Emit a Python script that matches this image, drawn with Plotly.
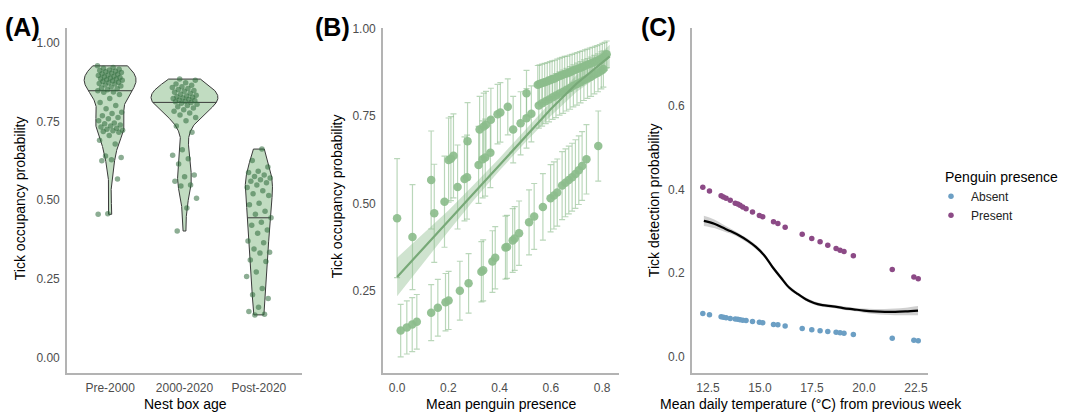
import numpy as np
import plotly.graph_objects as go

# ---------------- Panel A data: tick occupancy probability by nest box age ----------------
age_labels = ["Pre-2000", "2000-2020", "Post-2020"]
pre2000 = [0.926, 0.921, 0.918, 0.915, 0.913, 0.911, 0.909, 0.907, 0.905, 0.903, 0.901, 0.899,
           0.897, 0.895, 0.893, 0.891, 0.889, 0.887, 0.885, 0.884, 0.882, 0.880, 0.878, 0.876,
           0.874, 0.872, 0.870, 0.868, 0.865, 0.862, 0.859, 0.856, 0.853, 0.850, 0.847, 0.843,
           0.842, 0.835, 0.822, 0.810, 0.800, 0.790, 0.779, 0.775, 0.768, 0.762, 0.758, 0.752,
           0.745, 0.742, 0.738, 0.735, 0.732, 0.728, 0.725, 0.722, 0.720, 0.718, 0.715, 0.705,
           0.690, 0.678, 0.640, 0.635, 0.628, 0.625, 0.567, 0.457, 0.455]
y2000_2020 = [0.884, 0.880, 0.872, 0.868, 0.864, 0.860, 0.857, 0.854, 0.851, 0.848, 0.845, 0.842,
              0.839, 0.836, 0.833, 0.830, 0.828, 0.826, 0.824, 0.822, 0.820, 0.818, 0.816, 0.814,
              0.812, 0.810, 0.807, 0.804, 0.800, 0.796, 0.792, 0.787, 0.782, 0.776, 0.770, 0.762,
              0.752, 0.735, 0.715, 0.660, 0.642, 0.631, 0.615, 0.580, 0.574, 0.560, 0.548, 0.545,
              0.506, 0.475, 0.402]
post2020 = [0.662, 0.626, 0.605, 0.592, 0.588, 0.580, 0.575, 0.570, 0.565, 0.560, 0.555, 0.548,
            0.540, 0.530, 0.520, 0.515, 0.490, 0.485, 0.465, 0.455, 0.444, 0.430, 0.420, 0.405,
            0.395, 0.370, 0.365, 0.345, 0.335, 0.332, 0.310, 0.305, 0.272, 0.258, 0.220, 0.200,
            0.188, 0.160, 0.147, 0.138, 0.136]

# ---------------- Panel B data: occupancy vs mean penguin presence ----------------
b_low_x = [0.014, 0.038, 0.059, 0.077, 0.133, 0.159, 0.189, 0.201, 0.245, 0.279, 0.329, 0.336,
           0.372, 0.383, 0.423, 0.429, 0.451, 0.459, 0.476, 0.515, 0.535, 0.569, 0.599, 0.612,
           0.625, 0.644, 0.657, 0.670, 0.683, 0.696, 0.709, 0.722, 0.739, 0.785]
b_low_y = [0.137, 0.146, 0.154, 0.162, 0.188, 0.202, 0.218, 0.223, 0.251, 0.272, 0.305, 0.309,
           0.334, 0.345, 0.374, 0.376, 0.394, 0.400, 0.415, 0.446, 0.463, 0.490, 0.515, 0.523,
           0.531, 0.551, 0.559, 0.567, 0.575, 0.584, 0.595, 0.607, 0.626, 0.664]
b_low_err = [0.075, 0.076, 0.077, 0.078, 0.080, 0.081, 0.082, 0.083, 0.084, 0.085, 0.086, 0.087,
             0.088, 0.089, 0.090, 0.090, 0.091, 0.091, 0.092, 0.093, 0.094, 0.095, 0.096, 0.096,
             0.096, 0.097, 0.097, 0.097, 0.097, 0.098, 0.098, 0.098, 0.099, 0.100]

b_mid_x = [0.000, 0.060, 0.133, 0.145, 0.185, 0.201, 0.210, 0.220, 0.236, 0.263, 0.273, 0.275,
           0.318, 0.322, 0.334, 0.338, 0.347, 0.344, 0.364, 0.366, 0.392, 0.403, 0.432, 0.453,
           0.482, 0.505, 0.505, 0.524]
b_mid_y = [0.458, 0.404, 0.567, 0.472, 0.505, 0.624, 0.628, 0.636, 0.547, 0.570, 0.575, 0.678,
           0.610, 0.711, 0.626, 0.720, 0.725, 0.631, 0.645, 0.739, 0.755, 0.760, 0.776, 0.711,
           0.729, 0.815, 0.743, 0.756]
b_mid_err = [0.170, 0.150, 0.140, 0.140, 0.130, 0.120, 0.120, 0.120, 0.120, 0.120, 0.120, 0.110,
             0.110, 0.095, 0.110, 0.095, 0.095, 0.110, 0.100, 0.090, 0.085, 0.085, 0.080, 0.095,
             0.090, 0.065, 0.085, 0.080]

b_top_x = [0.549, 0.556, 0.566, 0.576, 0.586, 0.596, 0.605, 0.615, 0.625, 0.635, 0.644, 0.654,
           0.664, 0.674, 0.683, 0.693, 0.703, 0.713, 0.723, 0.733, 0.742, 0.752, 0.762, 0.772,
           0.781, 0.791, 0.801, 0.810, 0.818]
b_top_y = [0.839, 0.841, 0.844, 0.846, 0.849, 0.852, 0.855, 0.857, 0.861, 0.864, 0.867, 0.870,
           0.872, 0.875, 0.878, 0.881, 0.884, 0.887, 0.890, 0.893, 0.896, 0.899, 0.902, 0.905,
           0.908, 0.911, 0.915, 0.920, 0.926]
b_top_err = [0.055, 0.055, 0.054, 0.054, 0.053, 0.053, 0.052, 0.052, 0.051, 0.051, 0.050, 0.050,
             0.049, 0.049, 0.048, 0.048, 0.047, 0.047, 0.046, 0.046, 0.045, 0.045, 0.044, 0.044,
             0.043, 0.043, 0.042, 0.040, 0.038]

b_sub_x = [0.553, 0.566, 0.580, 0.593, 0.607, 0.620, 0.634, 0.648, 0.661, 0.675, 0.688, 0.702,
           0.716, 0.729, 0.743, 0.757, 0.770, 0.784, 0.797, 0.805]
b_sub_y = [0.780, 0.786, 0.792, 0.797, 0.803, 0.808, 0.814, 0.819, 0.825, 0.830, 0.836, 0.841,
           0.846, 0.852, 0.857, 0.862, 0.868, 0.873, 0.880, 0.884]
b_sub_err = [0.065, 0.065, 0.064, 0.064, 0.063, 0.063, 0.062, 0.062, 0.061, 0.061, 0.060, 0.060,
             0.059, 0.058, 0.057, 0.056, 0.055, 0.054, 0.053, 0.052]

b_fit_x = [0.00, 0.10, 0.20, 0.30, 0.40, 0.50, 0.60, 0.70, 0.77, 0.83]
b_fit_y = [0.290, 0.370, 0.450, 0.532, 0.612, 0.692, 0.770, 0.842, 0.884, 0.920]
b_fit_se = [0.055, 0.042, 0.030, 0.022, 0.018, 0.018, 0.020, 0.024, 0.028, 0.033]

# ---------------- Panel C data: detection vs temperature ----------------
temp_c = [12.25, 12.57, 13.13, 13.24, 13.37, 13.57, 13.81, 13.93, 14.04, 14.17, 14.33, 14.64,
          14.97, 15.13, 15.65, 15.86, 16.21, 17.03, 17.49, 17.89, 18.26, 18.66, 18.85, 19.04,
          19.49, 21.36, 22.40, 22.61]
det_present = [0.405, 0.396, 0.385, 0.382, 0.379, 0.374, 0.367, 0.365, 0.362, 0.358, 0.354, 0.346,
               0.338, 0.335, 0.323, 0.319, 0.310, 0.293, 0.283, 0.275, 0.267, 0.259, 0.255, 0.252,
               0.242, 0.209, 0.191, 0.187]
det_absent = [0.104, 0.101, 0.096, 0.095, 0.094, 0.092, 0.091, 0.090, 0.089, 0.088, 0.087, 0.085,
              0.083, 0.082, 0.078, 0.077, 0.074, 0.068, 0.065, 0.063, 0.061, 0.059, 0.058, 0.057,
              0.054, 0.045, 0.040, 0.039]
smooth_x = [12.3, 12.8, 13.2, 13.6, 14.0, 14.4, 14.8, 15.2, 15.6, 16.0, 16.4, 16.8, 17.2, 17.6,
            18.0, 18.5, 19.0, 19.5, 20.0, 20.5, 21.0, 21.5, 22.0, 22.6]
smooth_y = [0.325, 0.318, 0.309, 0.300, 0.290, 0.278, 0.263, 0.243, 0.215, 0.190, 0.166, 0.151,
            0.138, 0.129, 0.124, 0.121, 0.117, 0.114, 0.111, 0.109, 0.108, 0.108, 0.109, 0.111]
smooth_se = [0.012, 0.010, 0.008, 0.006, 0.005, 0.005, 0.005, 0.005, 0.005, 0.005, 0.005, 0.004,
             0.004, 0.004, 0.004, 0.004, 0.004, 0.004, 0.005, 0.006, 0.007, 0.008, 0.009, 0.011]

# ---------------- styles ----------------
FONT = "Liberation Sans, Arial, sans-serif"
VIOLIN_FILL = "rgba(190,218,190,0.95)"
VIOLIN_LINE = "#3a3a3a"
A_PT = "rgba(45,105,58,0.55)"
A_JITTER = 0.17
B_PT = "rgba(140,189,140,0.92)"
B_ERR = "rgba(140,189,140,0.6)"
ABSENT = "#6c9fc4"
PRESENT = "#8c4a86"

fig = go.Figure()

# ---- Panel A: violins (ggplot-like KDE, trim, scale='area') ----
groups = [pre2000, y2000_2020, post2020]
kdes = []
for vals in groups:
    v = np.asarray(vals, dtype=float)
    sd = v.std(ddof=1)
    q75, q25 = np.percentile(v, [75, 25])
    bw = 0.9 * min(sd, (q75 - q25) / 1.34) * len(v) ** -0.2
    grid = np.linspace(v.min(), v.max(), 512)
    dens = np.exp(-0.5 * ((grid[:, None] - v[None, :]) / bw) ** 2).sum(1) / (len(v) * bw * np.sqrt(2 * np.pi))
    kdes.append((grid, dens))
maxd = max(d.max() for _, d in kdes)
for i, ((grid, dens), vals) in enumerate(zip(kdes, groups)):
    pos = i + 1
    half = 0.45 * dens / maxd
    xs = np.concatenate([pos - half, (pos + half)[::-1], [pos - half[0]]])
    ys = np.concatenate([grid, grid[::-1], [grid[0]]])
    fig.add_trace(go.Scatter(x=xs, y=ys, mode="lines", fill="toself", fillcolor=VIOLIN_FILL,
                             line=dict(color=VIOLIN_LINE, width=1), xaxis="x", yaxis="y",
                             showlegend=False, hoverinfo="skip"))
    med = float(np.median(vals))
    hm = float(np.interp(med, grid, half))
    fig.add_trace(go.Scatter(x=[pos - hm, pos + hm], y=[med, med], mode="lines",
                             line=dict(color=VIOLIN_LINE, width=1), xaxis="x", yaxis="y",
                             showlegend=False, hoverinfo="skip"))
# deterministic horizontal jitter (golden-ratio sequence) for the points
for i, vals in enumerate(groups):
    k = np.arange(len(vals))
    offs = ((k * 0.6180339887 + 0.31 * i) % 1.0 - 0.5) * 2 * A_JITTER
    fig.add_trace(go.Scatter(x=(i + 1) + offs, y=vals, mode="markers",
                             marker=dict(color=A_PT, size=5.5, line=dict(width=0)),
                             xaxis="x", yaxis="y", showlegend=False, hoverinfo="skip"))

# ---- Panel B ----
for xs_, ys_, es_ in [(b_low_x, b_low_y, b_low_err), (b_mid_x, b_mid_y, b_mid_err),
                      (b_sub_x, b_sub_y, b_sub_err), (b_top_x, b_top_y, b_top_err)]:
    fig.add_trace(go.Scatter(x=xs_, y=ys_, mode="markers",
                             marker=dict(color=B_PT, size=8.5, line=dict(width=0)),
                             error_y=dict(type="data", array=es_, visible=True, color=B_ERR,
                                          thickness=1.2, width=3),
                             xaxis="x2", yaxis="y2", showlegend=False, hoverinfo="skip"))
fx = np.asarray(b_fit_x); fy = np.asarray(b_fit_y); fs = np.asarray(b_fit_se)
fig.add_trace(go.Scatter(x=fx, y=fy - fs, mode="lines", line=dict(width=0, color="rgba(0,0,0,0)"),
                         xaxis="x2", yaxis="y2", showlegend=False, hoverinfo="skip"))
fig.add_trace(go.Scatter(x=fx, y=fy + fs, mode="lines", line=dict(width=0, color="rgba(0,0,0,0)"),
                         fill="tonexty", fillcolor="rgba(140,189,140,0.42)",
                         xaxis="x2", yaxis="y2", showlegend=False, hoverinfo="skip"))
fig.add_trace(go.Scatter(x=fx, y=fy, mode="lines", line=dict(color="#78a978", width=2.2),
                         xaxis="x2", yaxis="y2", showlegend=False, hoverinfo="skip"))

# ---- Panel C ----
sx = np.asarray(smooth_x); sy = np.asarray(smooth_y); ss = np.asarray(smooth_se)
fig.add_trace(go.Scatter(x=sx, y=sy - ss, mode="lines", line=dict(width=0, color="rgba(0,0,0,0)", shape="spline"),
                         xaxis="x3", yaxis="y3", showlegend=False, hoverinfo="skip"))
fig.add_trace(go.Scatter(x=sx, y=sy + ss, mode="lines", line=dict(width=0, color="rgba(0,0,0,0)", shape="spline"),
                         fill="tonexty", fillcolor="rgba(150,150,150,0.45)",
                         xaxis="x3", yaxis="y3", showlegend=False, hoverinfo="skip"))
fig.add_trace(go.Scatter(x=sx, y=sy, mode="lines", line=dict(color="black", width=2.2, shape="spline"),
                         xaxis="x3", yaxis="y3", showlegend=False, hoverinfo="skip"))
fig.add_trace(go.Scatter(x=temp_c, y=det_absent, mode="markers", name="Absent",
                         marker=dict(color=ABSENT, size=5.5, line=dict(width=0)),
                         xaxis="x3", yaxis="y3", showlegend=True))
fig.add_trace(go.Scatter(x=temp_c, y=det_present, mode="markers", name="Present",
                         marker=dict(color=PRESENT, size=5.5, line=dict(width=0)),
                         xaxis="x3", yaxis="y3", showlegend=True))

# ---------------- layout ----------------
W, H = 1070, 412
def px_x(p):
    return p / W
def px_y(p):
    return 1 - p / H

ydom = [px_y(372), px_y(22)]
axis_common = dict(showline=True, linecolor="#b3b3b3", linewidth=1.6, showgrid=False,
                   zeroline=False, ticks="", ticklabelstandoff=3,
                   tickfont=dict(family=FONT, size=12, color="#4d4d4d"))

fig.update_layout(
    width=W, height=H, margin=dict(l=0, r=0, t=0, b=0),
    paper_bgcolor="white", plot_bgcolor="white",
    font=dict(family=FONT, color="black"),
    xaxis=dict(domain=[px_x(67), px_x(302)], range=[0.42, 3.58], tickvals=[1, 2, 3],
               ticktext=age_labels, anchor="y", **axis_common),
    yaxis=dict(domain=ydom, range=[-0.047, 1.047], tickvals=[0, 0.25, 0.5, 0.75, 1.0],
               tickformat=".2f", anchor="x", **axis_common),
    xaxis2=dict(domain=[px_x(383), px_x(619)], range=[-0.055, 0.866],
                tickvals=[0, 0.2, 0.4, 0.6, 0.8], tickformat=".1f", anchor="y2", **axis_common),
    yaxis2=dict(domain=ydom, range=[0.017, 1.002], tickvals=[0.25, 0.5, 0.75, 1.0],
                tickformat=".2f", anchor="x2", **axis_common),
    xaxis3=dict(domain=[px_x(692), px_x(928)], range=[11.73, 23.08],
                tickvals=[12.5, 15, 17.5, 20, 22.5], tickformat=".1f", anchor="y3", **axis_common),
    yaxis3=dict(domain=ydom, range=[-0.037, 0.786], tickvals=[0, 0.2, 0.4, 0.6],
                tickformat=".1f", anchor="x3", **axis_common),
    legend=dict(x=px_x(943), y=px_y(160), xanchor="left", yanchor="top", traceorder="normal",
                title=dict(text="Penguin presence", font=dict(family=FONT, size=14, color="black")),
                font=dict(family=FONT, size=12, color="#222"), itemwidth=30, indentation=-12,
                bgcolor="rgba(0,0,0,0)", tracegroupgap=0),
)

annots = [
    # axis titles
    dict(text="Nest box age", x=px_x(185), y=px_y(404), size=14, angle=0),
    dict(text="Tick occupancy probability", x=px_x(20), y=px_y(195), size=14, angle=-90),
    dict(text="Mean penguin presence", x=px_x(501), y=px_y(404), size=14, angle=0),
    dict(text="Tick occupancy probability", x=px_x(337), y=px_y(193), size=14, angle=-90),
    dict(text="Mean daily temperature (°C) from previous week", x=px_x(811), y=px_y(404), size=14, angle=0),
    dict(text="Tick detection probability", x=px_x(654), y=px_y(197), size=14, angle=-90),
]
for a in annots:
    fig.add_annotation(text=a["text"], x=a["x"], y=a["y"], xref="paper", yref="paper",
                       xanchor="center", yanchor="middle", showarrow=False, textangle=a["angle"],
                       font=dict(family=FONT, size=a["size"], color="black"))
for lab, xp in [("(A)", 3), ("(B)", 313), ("(C)", 639)]:
    fig.add_annotation(text=f"<b>{lab}</b>", x=px_x(xp), y=px_y(21), xref="paper", yref="paper",
                       xanchor="left", yanchor="middle", showarrow=False,
                       font=dict(family=FONT, size=25, color="black"))

fig.write_html("out.html", config={"displayModeBar": False},
               post_script="document.body.style.margin='0';")
